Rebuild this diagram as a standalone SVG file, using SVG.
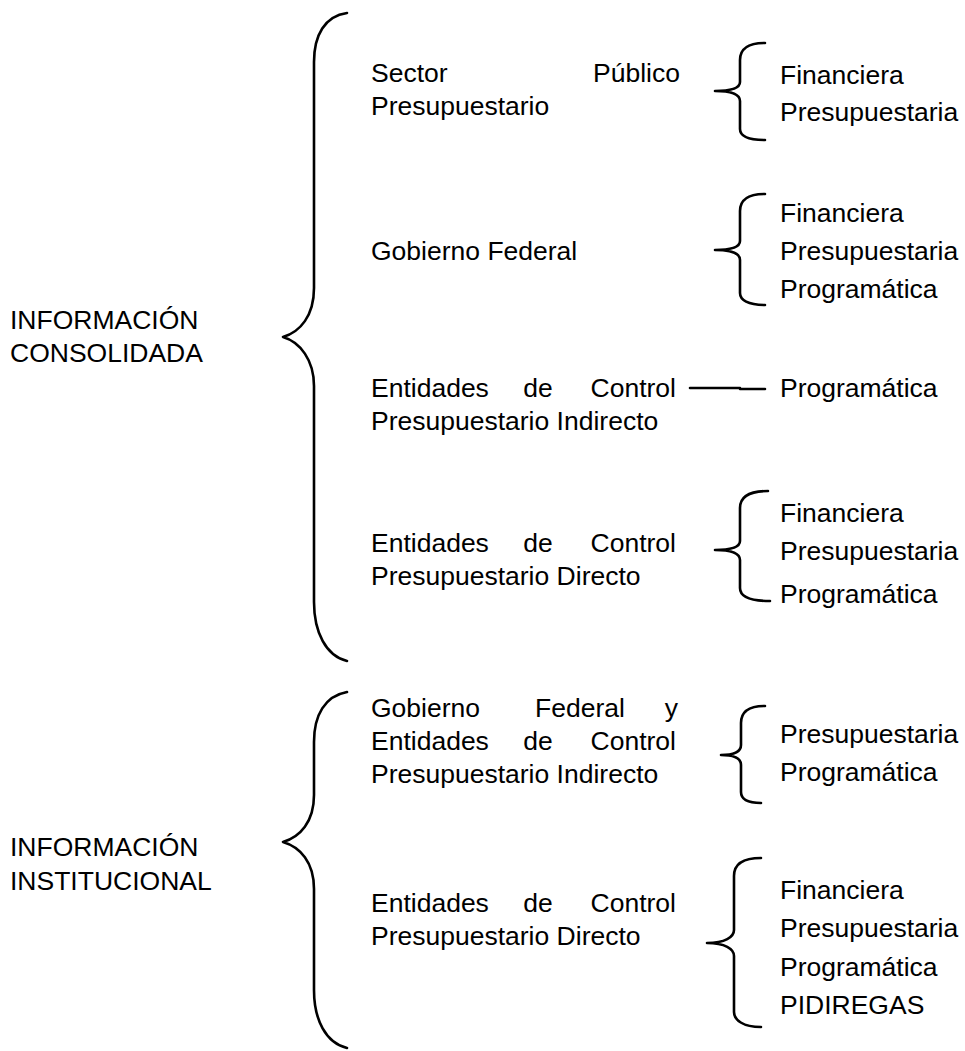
<svg xmlns="http://www.w3.org/2000/svg" width="965" height="1051" viewBox="0 0 965 1051">
<style>
text{font-family:"Liberation Sans",Arial,sans-serif;font-size:26.5px;fill:#000}
.e{text-anchor:end}
.m{text-anchor:middle}
.b{fill:none;stroke:#000;stroke-width:2.6;stroke-linecap:round;stroke-linejoin:round}
</style>
<rect width="965" height="1051" fill="#fff"/>
<g id="connectors">
<path class="b" d="M347,13 C325,16 314,35 314,62 L314,288 C314,316 300,332 283,337 C300,342 314,360 314,386 L314,602 C314,632 326,656 347,661"/>
<path class="b" d="M765,43 C748,43 740,49 740,60 L740,82 C740,88 732,91 715,91 C732,91 740,94 740,101 L740,129 C740,136 748,140 765,140"/>
<path class="b" d="M765,194 C748,194 740,200 740,211 L740,241 C740,247 732,250 715,250 C732,250 740,253 740,260 L740,293 C740,300 748,305 765,305"/>
<path class="b" d="M690,388 L740,388 M740,389 L765,389"/>
<path class="b" d="M768,491 C748,491 740,497 740,508 L740,541 C740,547 732,550 715,550 C732,550 740,553 740,560 L740,588 C740,596 748,601 770,601"/>
<path class="b" d="M347,692 C325,696 314,715 314,742 L314,795 C314,822 300,837 283,842 C300,847 314,862 314,889 L314,990 C314,1020 326,1043 347,1048"/>
<path class="b" d="M765,706 C748,706 741,712 741,723 L741,745 C741,751 735,755 721,755 C735,755 741,759 741,765 L741,792 C741,799 748,803 761,803"/>
<path class="b" d="M761,858 C743,858 734,864 734,876 L734,930 C734,937 725,943 707,943 C725,943 734,949 734,956 L734,1012 C734,1020 743,1027 761,1027"/>
</g>
<g id="n-consolidada"><text x="10" y="329">INFORMACIÓN</text><text x="10" y="362">CONSOLIDADA</text></g>
<g id="n-institucional"><text x="10" y="856">INFORMACIÓN</text><text x="10" y="890">INSTITUCIONAL</text></g>
<g id="n-sector"><text x="371" y="82">Sector</text><text class="e" x="680" y="82">Público</text><text x="371" y="115">Presupuestario</text></g>
<g id="n-sector-r"><text x="780" y="84">Financiera</text><text x="780" y="121">Presupuestaria</text></g>
<g id="n-gobierno"><text x="371" y="260">Gobierno Federal</text></g>
<g id="n-gobierno-r"><text x="780" y="222">Financiera</text><text x="780" y="260">Presupuestaria</text><text x="780" y="298">Programática</text></g>
<g id="n-indirecto"><text x="371" y="397">Entidades</text><text class="m" x="538" y="397">de</text><text class="e" x="676" y="397">Control</text><text x="371" y="430">Presupuestario Indirecto</text></g>
<g id="n-indirecto-r"><text x="780" y="397">Programática</text></g>
<g id="n-directo"><text x="371" y="552">Entidades</text><text class="m" x="538" y="552">de</text><text class="e" x="676" y="552">Control</text><text x="371" y="585">Presupuestario Directo</text></g>
<g id="n-directo-r"><text x="780" y="522">Financiera</text><text x="780" y="560">Presupuestaria</text><text x="780" y="603">Programática</text></g>
<g id="n-gobyent"><text x="371" y="717">Gobierno</text><text class="m" x="580" y="717">Federal</text><text class="e" x="678" y="717">y</text><text x="371" y="750">Entidades</text><text class="m" x="538" y="750">de</text><text class="e" x="676" y="750">Control</text><text x="371" y="783">Presupuestario Indirecto</text></g>
<g id="n-gobyent-r"><text x="780" y="743">Presupuestaria</text><text x="780" y="781">Programática</text></g>
<g id="n-directo2"><text x="371" y="912">Entidades</text><text class="m" x="538" y="912">de</text><text class="e" x="676" y="912">Control</text><text x="371" y="945">Presupuestario Directo</text></g>
<g id="n-directo2-r"><text x="780" y="899">Financiera</text><text x="780" y="937">Presupuestaria</text><text x="780" y="976">Programática</text><text x="780" y="1014">PIDIREGAS</text></g>
</svg>
